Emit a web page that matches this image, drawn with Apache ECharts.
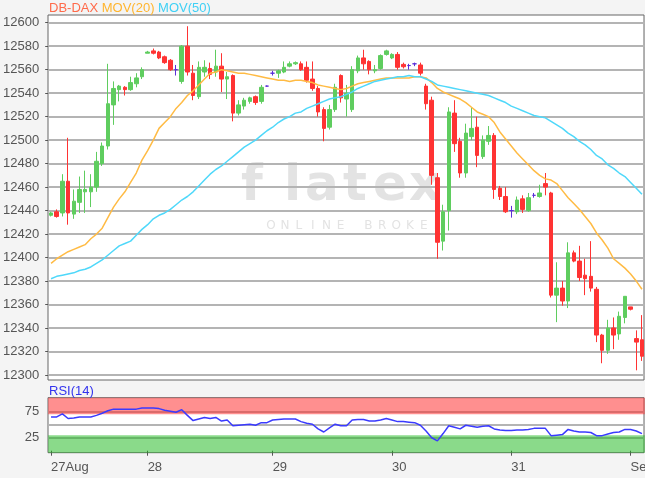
<!DOCTYPE html>
<html><head><meta charset="utf-8">
<script src="https://cdn.jsdelivr.net/npm/echarts@6/dist/echarts.min.js"></script>
<style>html,body{margin:0;padding:0;background:#f4f4f4;}#c{width:645px;height:478px;}</style>
</head><body><div id="c"></div>
<script>
// ---- data ----
const dayTickIndex = [0, 17, 39, 60, 81, 102];
const dayTickLabels = ['27Aug', '28', '29', '30', '31', 'Sep'];
// [open, close, low, high]
const ohlc = [
[12436,12438,12435,12439],[12439,12435,12434,12441],[12438,12465,12435,12471],[12465,12438,12428,12502],
[12437,12448,12433,12458],[12447,12458,12438,12469],[12456,12458,12438,12474],[12456,12460,12443,12471],
[12460,12482,12456,12490],[12480,12495,12478,12498],[12495,12531,12492,12565],[12530,12544,12513,12550],
[12543,12546,12533,12547],[12545,12543,12538,12546],[12543,12549,12542,12554],[12548,12553,12545,12557],
[12554,12560,12552,12562],[12574,12575,12574,12576],[12576,12574,12573,12578],[12575,12570,12569,12576],
[12571,12566,12565,12572],[12568,12560,12559,12569],[12560,12560,12555,12564],[12550,12580,12548,12581],
[12580,12558,12555,12597],[12557,12538,12534,12564],[12537,12562,12535,12567],[12558,12562,12554,12568],
[12561,12556,12552,12566],[12558,12563,12554,12577],[12563,12552,12541,12574],[12552,12554,12535,12558],
[12555,12523,12516,12556],[12523,12530,12521,12534],[12529,12534,12526,12536],[12533,12536,12531,12537],
[12537,12532,12530,12538],[12533,12545,12531,12547],[12546,12546,12545.5,12546.5],[12557,12557,12555,12559],
[12557,12559,12553,12560],[12558,12562,12557,12567],[12563,12565,12562,12567],[12565,12566,12564,12567],
[12565,12560,12559,12567],[12562,12551,12549,12567],[12552,12544,12542,12567],[12544,12524,12520,12546],
[12526,12510,12499,12528],[12511,12526,12509,12530],[12526,12545,12524,12548],[12555,12536,12532,12556],
[12535,12540,12520,12547],[12526,12560,12524,12563],[12559,12570,12557,12572],[12570,12565,12560,12577],
[12567,12560,12556,12568],[12559,12560,12557,12564],[12561,12572,12560,12573],[12573,12576,12572,12577],
[12570,12573,12569,12574],[12573,12562,12560,12575],[12564.5,12562.5,12561,12566],[12563.5,12563.5,12560,12565],
[12565,12565,12563,12566],[12564,12557,12555,12566],[12546,12531,12526,12548],[12534,12470,12462,12537],
[12468,12413,12399,12472],[12414,12439,12406,12445],[12440,12524,12423,12528],[12523,12497,12490,12534],
[12499,12472,12468,12502],[12472,12506,12468,12514],[12503,12510,12500,12528],[12511,12487,12477,12520],
[12486,12500,12484,12504],[12499,12504,12496,12512],[12504,12458,12450,12506],[12459,12452,12449,12461],
[12452,12439,12438,12460],[12440,12440,12434,12444],[12439,12449,12437,12452],[12450,12441,12438,12453],
[12440,12451,12439,12455],[12453,12453,12451,12455],[12452,12455,12451,12462],[12463,12460,12453,12472],
[12455,12368,12366,12456],[12368,12374,12345,12396],[12374,12363,12359,12380],[12363,12404,12357,12413],
[12404,12397,12396,12406],[12397,12383,12380,12410],[12385,12382,12368,12399],[12384,12374,12371,12414],
[12373,12334,12328,12375],[12334,12321,12310,12335],[12321,12340,12318,12347],[12340,12334,12322,12349],
[12335,12350,12330,12354],[12349,12367,12344,12367],[12358,12356,12355,12358],[12331,12328,12304,12338],
[12330,12316,12312,12351]
];
const ma20 = [
12395,12399,12402,12405,12407,12409,12411,12416,12420,12425,12434,12443,12450,12456,12464,12472,
12483,12491,12500,12510,12515,12520,12527,12532,12538,12542,12547,12552,12557,12558,12560,12559,
12558,12557,12557,12556,12555,12554,12553,12552,12551,12551,12550,12551,12551,12550,12549,12547,
12546,12545,12544,12543,12544,12546,12548,12549,12550,12551,12552,12553,12553,12553,12553,12553,
12554,12554,12553,12549,12544,12541,12539,12537,12535,12532,12528,12524,12522,12520,12515,12507,
12501,12495,12489,12484,12479,12474,12470,12467,12466,12463,12457,12451,12446,12441,12435,12429,
12421,12415,12408,12399,12395,12391,12386,12380,12373
];
const ma50 = [
12382,12384,12385,12386,12387,12389,12390,12392,12395,12398,12402,12406,12410,12412,12414,12419,
12424,12428,12433,12436,12438,12441,12445,12449,12452,12456,12461,12466,12471,12475,12478,12482,
12486,12490,12494,12497,12500,12504,12508,12511,12515,12518,12520,12523,12524,12527,12529,12531,
12533,12535,12536,12537,12539,12541,12544,12546,12548,12550,12551,12552,12553,12554,12554,12555,
12554,12554,12552,12550,12547,12546,12545,12544,12543,12542,12541,12540,12539,12538,12536,12534,
12532,12529,12527,12525,12523,12521,12520,12519,12516,12513,12510,12506,12503,12499,12496,12492,
12487,12484,12479,12476,12472,12469,12464,12459,12454
];
const rsi14 = [
65,65,71,62,63,65,65,65,68,72,77,80,80,80,80,80,82,82,82,81,78,76,74,79,68,58,61,64,62,64,57,59,
48,49,50,51,49,54,54,59,60,61,61,61,56,53,51,42,36,44,51,48,48,59,60,60,57,57,59,62,59,56,56,55,
54,49,38,25,19,33,48,45,42,49,47,45,47,48,42,40,39,39,40,40,41,43,43,43,29,30,31,41,38,36,36,35,
29,29,32,35,36,41,41,38,33
];
const priceAxis = { min: 12300, max: 12600, step: 20 };
const rsiAxis = { min: 25, max: 75, step: 25, shown: [25, 75] };
const rsiZones = { over: 70, under: 30 };

// ---- chart ----
const categories = ohlc.map((_, i) => String(i));
const FONT = '"Liberation Sans", Arial, sans-serif';
const TXT = '#555';
const tickSet = new Set(dayTickIndex);
const chart = echarts.init(document.getElementById('c'), null, { renderer: 'canvas' });

const G = (o) => Object.assign({ containLabel: false, outerBoundsMode: 'none' }, o);
const hiddenX = (g) => ({ type: 'category', gridIndex: g, data: categories, show: false, boundaryGap: true });
const hiddenY = (g, mn, mx) => ({ type: 'value', gridIndex: g, min: mn, max: mx, show: false, splitLine: { show: false } });

// watermark (decoration, not data)
const WM_COLOR = '#e3e3e3';
const wmBig = [['f', 241], ['l', 284], ['a', 305], ['t', 343], ['e', 373], ['x', 409]].map(([ch, x]) => ({
  type: 'text', z: -5, x: x, y: 162, style: { text: ch, fill: WM_COLOR, font: 'bold 50px "DejaVu Sans"' } }));
const wmSmall = 'ONLINE BROKER'.split('').map((ch, k) => ({
  type: 'text', z: -5, x: 271 + k * 13.9, y: 220, style: { text: ch, fill: WM_COLOR, font: '12px "DejaVu Sans"', align: 'center' } }));

chart.setOption({
  backgroundColor: '#f4f4f4',
  animation: false,
  title: [
    { left: 49, top: 1, padding: 0, text: '{a|DB-DAX} {b|MOV(20)} {c|MOV(50)}',
      textStyle: { fontSize: 13, lineHeight: 14, fontFamily: FONT, fontWeight: 'normal', rich: {
        a: { color: '#ff6a4a', fontSize: 13, lineHeight: 14, fontFamily: FONT },
        b: { color: '#ffb52e', fontSize: 13, lineHeight: 14, fontFamily: FONT },
        c: { color: '#3fd0f5', fontSize: 13, lineHeight: 14, fontFamily: FONT } } } },
    { left: 49, top: 384, padding: 0, text: 'RSI(14)', textStyle: { color: '#3333ee', fontSize: 13, lineHeight: 14, fontWeight: 'normal', fontFamily: FONT } }
  ],
  graphic: [
    { type: 'rect', z: -10, shape: { x: 48, y: 15, width: 596, height: 365 }, style: { fill: '#fff' } },
    { type: 'rect', z: -10, shape: { x: 48, y: 397.7, width: 596, height: 55 }, style: { fill: '#fff' } }
  ].concat(wmBig, wmSmall, [
    { type: 'rect', z: -4, shape: { x: 437, y: 150, width: 30, height: 90 }, style: { fill: '#fff' } }
  ]),
  grid: [
    G({ left: 48, top: 15, width: 596, height: 365, show: true, backgroundColor: 'transparent', borderColor: '#666', borderWidth: 1 }),
    G({ left: 48.2, top: 22.7, width: 596.6, height: 352.3 }),
    G({ left: 48, top: 397.7, width: 596, height: 55, show: true, backgroundColor: 'transparent', borderColor: '#666', borderWidth: 1 }),
    G({ left: 48.2, top: 397.7, width: 596.6, height: 55 }),
    G({ left: 48.2, top: 411.7, width: 596.6, height: 26 })
  ],
  xAxis: [
    hiddenX(0), hiddenX(1), hiddenX(2),
    { type: 'category', gridIndex: 3, data: categories, boundaryGap: true, position: 'bottom',
      axisLine: { show: false },
      axisTick: { show: true, alignWithLabel: true, length: 5, interval: (i) => tickSet.has(i), lineStyle: { color: '#555' } },
      axisLabel: { interval: (i) => tickSet.has(i), formatter: (v) => dayTickLabels[dayTickIndex.indexOf(Number(v))] || '',
        align: 'left', margin: 8, fontSize: 13, color: TXT, fontFamily: FONT, hideOverlap: false },
      splitLine: { show: false } },
    hiddenX(4)
  ],
  yAxis: [
    hiddenY(0, 0, 1),
    { type: 'value', gridIndex: 1, min: priceAxis.min, max: priceAxis.max, interval: priceAxis.step,
      axisLine: { show: false }, axisTick: { show: true, length: 3, lineStyle: { color: '#555' } },
      axisLabel: { margin: 9, fontSize: 13, color: TXT, fontFamily: FONT, formatter: (v) => String(v) },
      splitLine: { lineStyle: { color: '#b4b4b4', width: 2 } } },
    hiddenY(2, 0, 1),
    hiddenY(3, -3.8, 102),
    { type: 'value', gridIndex: 4, min: rsiAxis.min, max: rsiAxis.max, interval: rsiAxis.step,
      axisLine: { show: false }, axisTick: { show: false },
      axisLabel: { margin: 9, fontSize: 13, color: TXT, fontFamily: FONT, formatter: (v) => rsiAxis.shown.includes(v) ? String(v) : '' },
      splitLine: { lineStyle: { color: '#b4b4b4', width: 2 } } }
  ],
  series: [
    { type: 'candlestick', xAxisIndex: 1, yAxisIndex: 1, data: ohlc, barWidth: 4,
      itemStyle: { color: '#5fcd5f', color0: '#ff3333', borderColor: '#5fcd5f', borderColor0: '#ff3333', borderColorDoji: '#5b2fd8', borderWidth: 1 } },
    { type: 'line', xAxisIndex: 1, yAxisIndex: 1, data: ma20, symbol: 'none', lineStyle: { color: '#ffbb44', width: 1.5 } },
    { type: 'line', xAxisIndex: 1, yAxisIndex: 1, data: ma50, symbol: 'none', lineStyle: { color: '#4fd8fa', width: 1.5 } },
    { type: 'line', xAxisIndex: 3, yAxisIndex: 3, data: rsi14, symbol: 'none', lineStyle: { color: '#3a3aff', width: 1.5 },
      markArea: { silent: true, data: [
        [{ yAxis: rsiZones.over, itemStyle: { color: 'rgba(255,40,40,0.52)' } }, { yAxis: 102 }],
        [{ yAxis: -3.8, itemStyle: { color: 'rgba(30,185,30,0.52)' } }, { yAxis: rsiZones.under }]
      ] } }
  ]
});
</script></body></html>
